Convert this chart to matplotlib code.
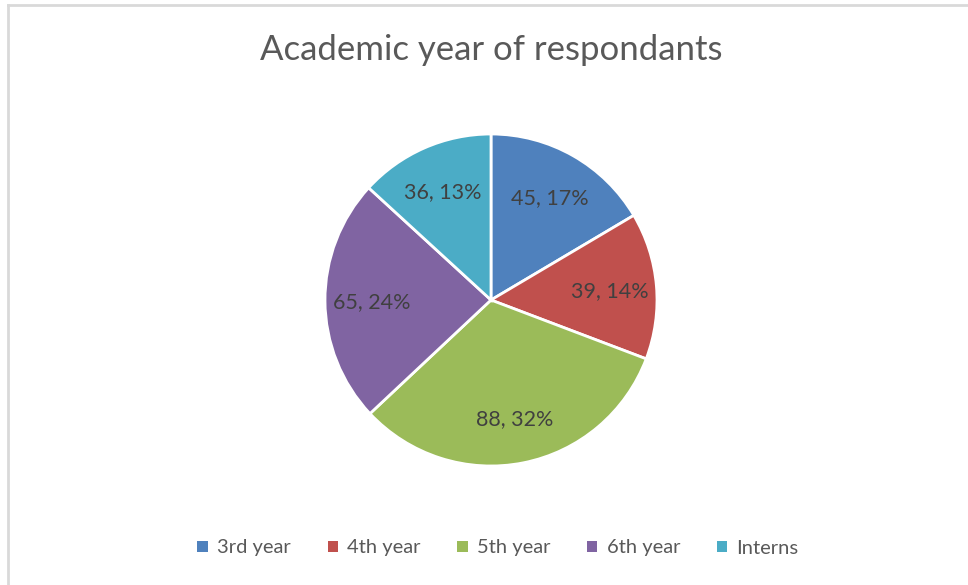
import matplotlib
matplotlib.use("Agg")
import matplotlib.pyplot as plt
from matplotlib.patches import Rectangle
from matplotlib.lines import Line2D
import numpy as np

categories = ["3rd year", "4th year", "5th year", "6th year", "Interns"]
values = [45, 39, 88, 65, 36]
percents = [17, 14, 32, 24, 13]
colors = ["#4F81BD", "#C0504D", "#9BBB59", "#8064A2", "#4BACC6"]

plt.rcParams['font.family'] = ['Lato', 'DejaVu Sans']

W, H = 968, 585
fig = plt.figure(figsize=(W / 100, H / 100), dpi=100)
fig.patch.set_facecolor("white")

# chart border (top and left visible)
fig.add_artist(Line2D([8 / W, 8 / W], [0, 1 - 5 / H], transform=fig.transFigure,
                      color="#D9D9D9", lw=2))
fig.add_artist(Line2D([8 / W, 1], [1 - 5 / H, 1 - 5 / H], transform=fig.transFigure,
                      color="#D9D9D9", lw=2))

cx, cy, r = 491, 300, 166
ax = fig.add_axes([(cx - r) / W, (H - cy - r) / H, 2 * r / W, 2 * r / H])
wedges, _ = ax.pie(values, colors=colors, startangle=90, counterclock=False,
                   wedgeprops=dict(edgecolor="white", linewidth=2),
                   radius=1.0)
total = sum(values)
ang = 90.0
for v, p in zip(values, percents):
    span = v / total * 360
    mid = np.deg2rad(ang - span / 2)
    ang -= span
    ax.text(0.72 * np.cos(mid), 0.72 * np.sin(mid) - 0.01, f"{v}, {p}%",
            ha="center", va="center", fontsize=15.5, color="#404040")
ax.set_xlim(-1, 1)
ax.set_ylim(-1, 1)
ax.set_aspect("equal")
ax.axis("off")

fig.text(cx / W, 1 - 50 / H, "Academic year of respondants", ha="center", va="center",
         fontsize=25, color="#595959")

handles = [Rectangle((0, 0), 1, 1, facecolor=c, edgecolor="none") for c in colors]
leg = fig.legend(handles, categories, loc="center", bbox_to_anchor=(498 / W, 1 - 548 / H),
                 ncol=5, frameon=False, fontsize=14.5, handlelength=0.5, handleheight=0.5,
                 handletextpad=0.45, columnspacing=1.85)
for t in leg.get_texts():
    t.set_color("#595959")

fig.savefig("out.png", dpi=100, facecolor="white")
